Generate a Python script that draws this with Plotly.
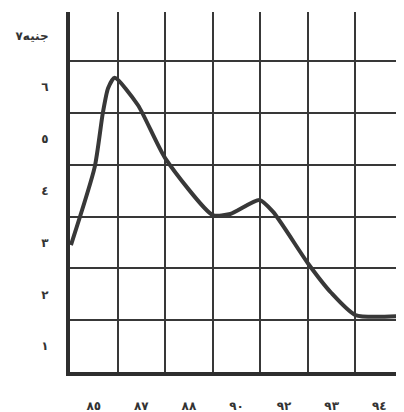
import plotly.graph_objects as go

# Tick labels (Arabic-Indic numerals)
year_labels = ["٨٥", "٨٧", "٨٨", "٩٠", "٩٢", "٩٣", "٩٤"]
price_labels = ["١", "٢", "٣", "٤", "٥", "٦", "\u200e٧\u200eجنيه"]
price_ticks = [1, 2, 3, 4, 5, 6, 7]

# Curve: position along the year columns, price (pounds)
curve_x = [0.02, 0.52, 0.69, 0.80, 0.94, 1.43, 2.00, 3.00, 3.37, 3.98, 4.27, 5.00, 5.49, 6.00, 6.91]
curve_y = [2.95, 4.46, 5.50, 5.98, 6.18, 5.65, 4.63, 3.53, 3.55, 3.82, 3.59, 2.60, 2.03, 1.60, 1.58]

ink = "#383838"
year_pos = [i + 0.5 for i in range(len(year_labels))]
v_grid = list(range(1, len(year_labels)))
h_grid = [t + 0.5 for t in price_ticks[:-1]]

y_text = [f"<b>{t}</b>" for t in price_labels]
x_text = [f"<b>{t}</b>" for t in year_labels]

fig = go.Figure()
fig.add_trace(go.Scatter(
    x=curve_x, y=curve_y, mode="lines",
    line=dict(color=ink, width=4, shape="spline", smoothing=0.6),
    hoverinfo="skip", showlegend=False,
))

# the page body has an 8px margin, so the figure is sized to fit the window
fig.update_layout(
    width=396, height=404,
    margin=dict(l=62, r=1, t=4, b=40, autoexpand=False),
    paper_bgcolor="white", plot_bgcolor="white",
    font=dict(family="DejaVu Sans", size=12, color="#333333"),
    xaxis=dict(
        range=[0, 7], tickvals=year_pos, ticktext=x_text,
        showgrid=False, zeroline=False, ticks="", ticklabelstandoff=20,
        showline=True, linecolor="#2e2e2e", linewidth=4, automargin=False,
        minor=dict(tickvals=v_grid, showgrid=True, gridcolor=ink, gridwidth=2, ticks=""),
    ),
    yaxis=dict(
        range=[0.5, 7.45], tickvals=price_ticks, ticktext=y_text,
        showgrid=False, zeroline=False, ticks="", ticklabelstandoff=15,
        showline=True, linecolor="#2e2e2e", linewidth=4, automargin=False,
        minor=dict(tickvals=h_grid, showgrid=True, gridcolor=ink, gridwidth=2, ticks=""),
    ),
)

fig.write_html("out.html")
